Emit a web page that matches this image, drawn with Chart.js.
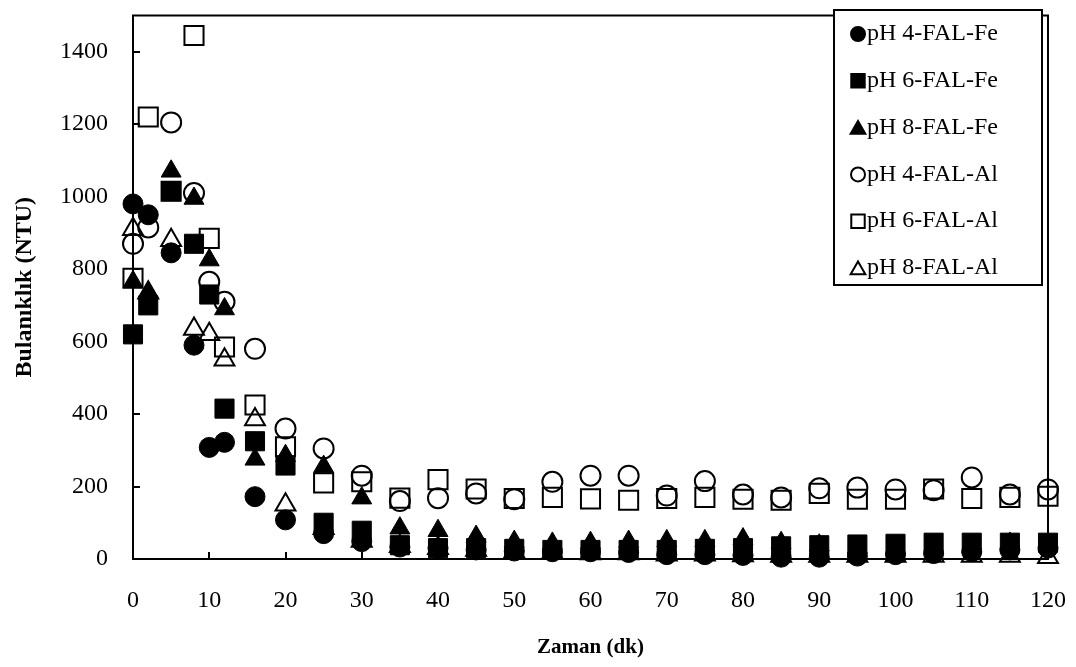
<!DOCTYPE html>
<html>
<head>
<meta charset="utf-8">
<script src="https://cdn.jsdelivr.net/npm/chart.js@4.4.1/dist/chart.umd.min.js"></script>
<style>
  html, body { margin: 0; padding: 0; background: #fff; }
  #wrap { width: 1076px; height: 667px; }
</style>
</head>
<body>
<div id="wrap"><canvas id="chart" width="1076" height="667"></canvas></div>
<script>
// zaman (dk)
var times = [0, 2, 5, 8, 10, 12, 16, 20, 25, 30, 35, 40, 45, 50, 55, 60, 65, 70, 75, 80, 85, 90, 95, 100, 105, 110, 115, 120];

// bulaniklik (NTU) her seri icin
var fe4 = [980, 950, 845, 590, 308, 322, 172, 108, 70, 48, 33, 30, 25, 22, 20, 20, 18, 12, 12, 10, 5, 5, 8, 12, 15, 20, 25, 30];
var fe6 = [620, 700, 1015, 870, 730, 415, 325, 258, 100, 78, 38, 30, 30, 28, 25, 25, 25, 25, 28, 30, 35, 38, 40, 42, 45, 45, 45, 45];
var fe8 = [765, 735, 1070, 995, 825, 690, 275, 285, 255, 168, 85, 78, 62, 48, 43, 45, 48, 50, 50, 55, 45, 38, 32, 30, 30, 32, 43, 40];
var al4 = [870, 915, 1205, 1010, 765, 710, 580, 360, 305, 230, 160, 168, 181, 165, 213, 230, 230, 175, 215, 178, 170, 195, 197, 192, 190, 225, 178, 192];
var al6 = [775, 1220, 1015, 1445, 885, 585, 425, 310, 210, 213, 168, 219, 193, 167, 170, 166, 162, 167, 170, 165, 162, 181, 165, 165, 193, 167, 170, 173];
var al8 = [910, 735, 880, 635, 620, 550, 385, 150, 85, 50, 35, 30, 25, 20, 18, 15, 15, 12, 12, 10, 8, 8, 8, 8, 8, 8, 8, 5];

var seriesNames = ['pH 4-FAL-Fe', 'pH 6-FAL-Fe', 'pH 8-FAL-Fe', 'pH 4-FAL-Al', 'pH 6-FAL-Al', 'pH 8-FAL-Al'];
var seriesValues = [fe4, fe6, fe8, al4, al6, al8];
var styles = ['circle', 'rect', 'triangle', 'circle', 'rect', 'triangle'];
var filled = [true, true, true, false, false, false];

var yTicks = [0, 200, 400, 600, 800, 1000, 1200, 1400];

var FONT = "'Liberation Serif', 'Times New Roman', serif";

function sizeFor(style) {
    if (style === 'rect') return 13.5;
    if (style === 'triangle') return 11.5;
    return 10;
}

var datasets = seriesValues.map(function (vals, i) {
    return {
        label: seriesNames[i],
        data: vals.map(function (v, j) { return { x: times[j], y: v }; }),
        pointStyle: styles[i],
        pointRadius: sizeFor(styles[i]),
        pointHoverRadius: sizeFor(styles[i]),
        backgroundColor: filled[i] ? '#000' : 'rgba(0,0,0,0)',
        borderColor: '#000',
        borderWidth: filled[i] ? 1 : 2,
        showLine: false,
        clip: false,
        order: 5 - i
    };
});

// cerceve, iceri bakan tick'ler ve grafik icindeki legend
var decor = {
    id: 'decor',
    afterDraw: function (chart) {
        var ctx = chart.ctx;
        var a = chart.chartArea;
        var xs = chart.scales.x, ys = chart.scales.y;
        ctx.save();
        ctx.strokeStyle = '#000';
        ctx.lineWidth = 2;
        ctx.strokeRect(a.left, a.top, a.right - a.left, a.bottom - a.top);

        ctx.beginPath();
        ys.ticks.forEach(function (t) {
            var py = Math.round(ys.getPixelForValue(t.value));
            ctx.moveTo(a.left, py);
            ctx.lineTo(a.left + 7, py);
        });
        xs.ticks.forEach(function (t) {
            var px = Math.round(xs.getPixelForValue(t.value));
            ctx.moveTo(px, a.bottom);
            ctx.lineTo(px, a.bottom - 7);
        });
        ctx.stroke();

        // legend kutusu
        var bx = 834, by = 10, bw = 208, bh = 275;
        ctx.fillStyle = '#fff';
        ctx.fillRect(bx, by, bw, bh);
        ctx.lineWidth = 2;
        ctx.strokeRect(bx, by, bw, bh);
        ctx.font = '24px ' + FONT;
        ctx.textBaseline = 'middle';
        ctx.textAlign = 'left';
        chart.data.datasets.forEach(function (ds, i) {
            var cy = by + 24 + i * 46.8;
            var r = ds.pointStyle === 'rect' ? 9.5 : (ds.pointStyle === 'triangle' ? 8.5 : 7);
            ctx.fillStyle = ds.backgroundColor;
            ctx.strokeStyle = '#000';
            Chart.helpers.drawPoint(ctx, {
                pointStyle: ds.pointStyle,
                radius: r,
                rotation: 0,
                borderWidth: ds.borderWidth > 1 ? 1.5 : 1
            }, 858, cy + (ds.pointStyle === 'triangle' ? 2 : 0));
            ctx.fillStyle = '#000';
            ctx.fillText(ds.label, 867, cy);
        });
        ctx.restore();
    }
};

function noEdgePadding(s) {
    s.paddingTop = 0;
    s.paddingBottom = 0;
    s.paddingLeft = 0;
    s.paddingRight = 0;
}

new Chart(document.getElementById('chart'), {
    type: 'scatter',
    data: { datasets: datasets },
    options: {
        responsive: false,
        animation: false,
        layout: { padding: { top: 5, right: 28, left: 0, bottom: 0 } },
        plugins: {
            legend: { display: false },
            tooltip: { enabled: false }
        },
        scales: {
            x: {
                type: 'linear',
                min: 0,
                max: 120,
                ticks: {
                    stepSize: 10,
                    padding: 27,
                    color: '#000',
                    font: { family: FONT, size: 24 },
                    callback: function (v) { return String(v); }
                },
                grid: { display: false, drawTicks: false },
                border: { display: true, color: '#000', width: 2 },
                title: {
                    display: true,
                    text: 'Zaman (dk)',
                    color: '#000',
                    font: { family: FONT, size: 21, weight: 'bold' },
                    padding: { top: 0, bottom: 7 }
                },
                afterFit: function (s) { s.height = 108; noEdgePadding(s); }
            },
            y: {
                type: 'linear',
                min: 0,
                max: 1500,
                afterBuildTicks: function (s) {
                    s.ticks = yTicks.map(function (v) { return { value: v }; });
                },
                ticks: {
                    padding: 25,
                    color: '#000',
                    font: { family: FONT, size: 24 },
                    callback: function (v) { return String(v); }
                },
                grid: { display: false, drawTicks: false },
                border: { display: true, color: '#000', width: 2 },
                title: {
                    display: true,
                    text: 'Bulanıklık (NTU)',
                    color: '#000',
                    font: { family: FONT, size: 24, weight: 'bold' },
                    padding: { top: 10, bottom: 0 }
                },
                afterFit: function (s) { s.width = 133; noEdgePadding(s); }
            }
        }
    },
    plugins: [decor]
});
</script>
</body>
</html>
